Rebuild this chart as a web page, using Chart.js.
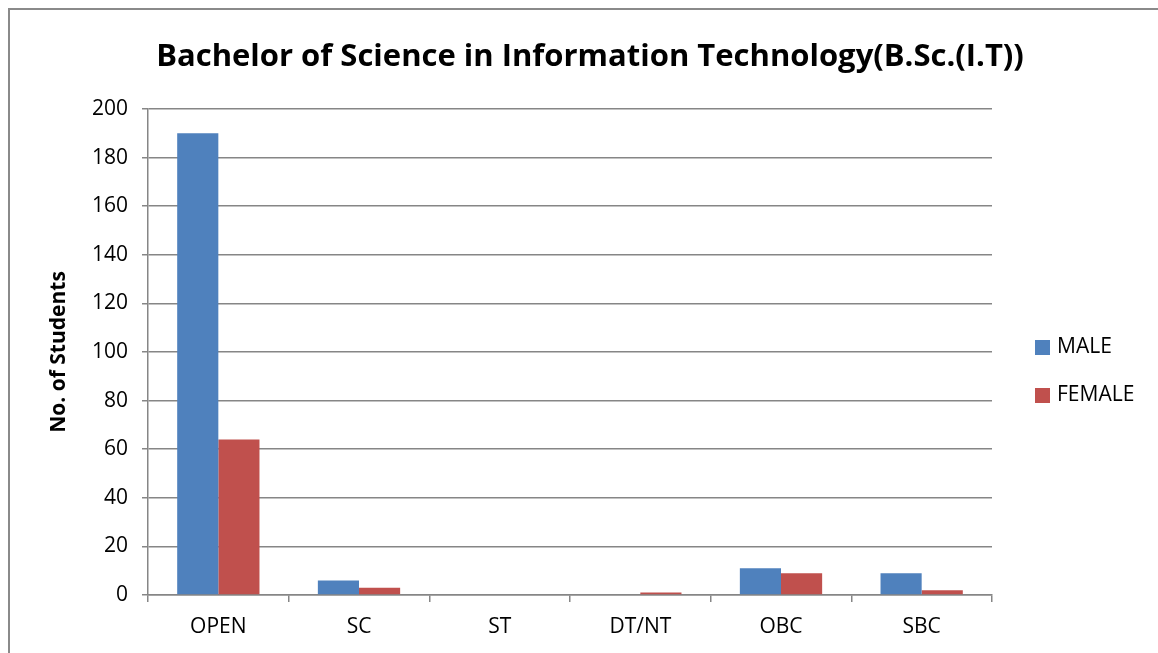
<!DOCTYPE html>
<html>
<head>
<meta charset="utf-8">
<script src="https://cdn.jsdelivr.net/npm/chart.js@4"></script>
<style>
  html, body { margin: 0; padding: 0; background: #fff; overflow: hidden; }
  #wrap { width: 1158px; height: 653px; position: relative; }
</style>
</head>
<body>
<div id="wrap"><canvas id="barChart" width="1158" height="653"></canvas></div>
<script>
const categories = ["OPEN", "SC", "ST", "DT/NT", "OBC", "SBC"];
const maleValues = [190, 6, 0, 0, 11, 9];
const femaleValues = [64, 3, 0, 1, 9, 2];
const yTicks = [0, 20, 40, 60, 80, 100, 120, 140, 160, 180, 200];

const chartTitle = "Bachelor of Science in Information Technology(B.Sc.(I.T))";
const fontFamily = "'Open Sans', 'Liberation Sans', sans-serif";
const gridColor = "#868686";

// frame, title and legend drawn by hand
const decorations = {
    id: "decorations",
    beforeDraw(chart) {
        const c = chart.ctx;
        c.save();
        c.fillStyle = "#fff";
        c.fillRect(0, 0, chart.width, chart.height);
        c.strokeStyle = "#8a8a8a";
        c.lineWidth = 2;
        c.beginPath();
        c.moveTo(9, chart.height + 5);
        c.lineTo(9, 9);
        c.lineTo(chart.width + 5, 9);
        c.stroke();
        c.restore();
    },
    afterDraw(chart) {
        const c = chart.ctx;
        c.save();
        c.fillStyle = "#000";
        c.font = "bold 31px " + fontFamily;
        c.textAlign = "center";
        c.textBaseline = "middle";
        c.fillText(chartTitle, 590, 57);

        c.font = "21px " + fontFamily;
        c.textAlign = "left";
        chart.data.datasets.forEach((ds, i) => {
            const y = 347 + i * 48;
            c.fillStyle = ds.backgroundColor;
            c.fillRect(1035, y - 7, 15, 15);
            c.fillStyle = "#000";
            c.fillText(ds.label, 1057, y);
        });
        c.restore();
    }
};

const ctx = document.getElementById("barChart").getContext("2d");

new Chart(ctx, {
    type: "bar",
    data: {
        labels: categories,
        datasets: [
            { label: "MALE", data: maleValues, backgroundColor: "#4F81BD" },
            { label: "FEMALE", data: femaleValues, backgroundColor: "#C0504D" }
        ]
    },
    options: {
        responsive: false,
        animation: false,
        layout: { padding: { left: 20, right: 166, top: 109, bottom: 0 } },
        datasets: {
            bar: { barPercentage: 1, categoryPercentage: 0.585 }
        },
        plugins: {
            legend: { display: false },
            title: { display: false },
            tooltip: { enabled: false }
        },
        scales: {
            x: {
                grid: {
                    offset: true,
                    drawOnChartArea: false,
                    drawTicks: true,
                    tickLength: 7,
                    color: gridColor,
                    lineWidth: 1.5
                },
                border: { color: gridColor, width: 1.5 },
                ticks: {
                    color: "#000",
                    font: { family: fontFamily, size: 21 },
                    padding: 12,
                    maxRotation: 0
                },
                afterFit: scale => { scale.height = 58; }
            },
            y: {
                min: 0,
                max: 200,
                afterBuildTicks: scale => {
                    scale.ticks = yTicks.map(v => ({ value: v }));
                },
                grid: {
                    color: gridColor,
                    lineWidth: 1.5,
                    drawTicks: true,
                    tickLength: 6
                },
                border: { color: gridColor, width: 1.5 },
                ticks: {
                    color: "#000",
                    font: { family: fontFamily, size: 21 },
                    padding: 14
                },
                title: {
                    display: true,
                    text: "No. of Students",
                    color: "#000",
                    font: { family: fontFamily, size: 21, weight: "bold" },
                    padding: { top: 26, bottom: 0 }
                },
                afterFit: scale => { scale.width = 128; }
            }
        }
    },
    plugins: [decorations]
});
</script>
</body>
</html>
